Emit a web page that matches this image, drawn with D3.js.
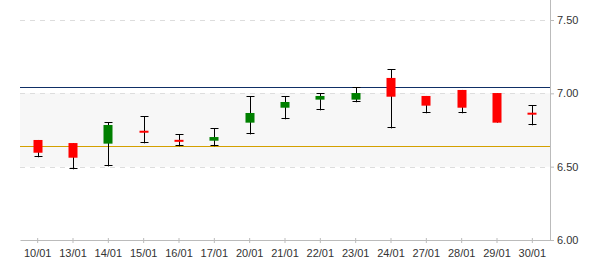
<!DOCTYPE html>
<html><head><meta charset="utf-8">
<script src="https://cdn.jsdelivr.net/npm/d3@7"></script>
<style>body{margin:0;background:#fff}svg{display:block}</style>
</head><body>
<script>
const dates = ["10/01","13/01","14/01","15/01","16/01","17/01","20/01","21/01","22/01","23/01","24/01","27/01","28/01","29/01","30/01"];
const openV  = [6.682,6.661,6.657,6.745,6.683,6.677,6.800,6.902,6.957,6.957,7.105,6.982,7.023,7.002,6.868];
const closeV = [6.595,6.561,6.784,6.735,6.676,6.702,6.866,6.941,6.982,7.002,6.977,6.916,6.902,6.800,6.862];
const highV  = [6.682,6.661,6.804,6.843,6.720,6.761,6.980,6.980,7.000,7.041,7.164,6.982,7.023,7.002,6.918];
const lowV   = [6.564,6.482,6.502,6.659,6.639,6.639,6.720,6.823,6.884,6.939,6.761,6.864,6.864,6.800,6.782];
const yTicks = [6.00, 6.50, 7.00, 7.50];
const refHigh = 7.041;
const refLow = 6.639;
const bandRange = [6.50, 7.00];

(function () {
const W = 600, H = 270;
const mLeft = 20, mRight = 550, mTop = 20, mBottom = 240;
const svg = d3.select("body").append("svg").attr("width", W).attr("height", H)
  .style("font-family", "'Liberation Sans', Arial, sans-serif");

const x = d3.scaleBand().domain(dates).range([mLeft, mRight]);
const y = d3.scaleLinear().domain([6.0, 7.5]).range([mBottom, mTop]);

// shaded band
svg.append("rect").attr("x", mLeft).attr("width", mRight - mLeft)
  .attr("y", y(bandRange[1])).attr("height", y(bandRange[0]) - y(bandRange[1]))
  .attr("fill", "#f7f7f7");

// dashed gridlines
svg.selectAll("line.grid").data(yTicks.filter(t => t > 6.0)).enter().append("line")
  .attr("x1", mLeft).attr("x2", mRight)
  .attr("y1", d => Math.round(y(d)) + 0.5).attr("y2", d => Math.round(y(d)) + 0.5)
  .attr("stroke", "#dddddd").attr("stroke-dasharray", "5,5");

// reference lines
svg.append("line").attr("x1", mLeft).attr("x2", mRight)
  .attr("y1", Math.round(y(refHigh)) + 0.5).attr("y2", Math.round(y(refHigh)) + 0.5)
  .attr("stroke", "#0f2f66").attr("stroke-width", 1);
svg.append("line").attr("x1", mLeft).attr("x2", mRight)
  .attr("y1", Math.round(y(refLow)) + 0.5).attr("y2", Math.round(y(refLow)) + 0.5)
  .attr("stroke", "#d4a000").attr("stroke-width", 1);

// axes
const yAxis = d3.axisRight(y).tickValues(yTicks).tickFormat(d3.format(".2f")).tickSize(4).tickSizeOuter(0);
const gy = svg.append("g").attr("transform", `translate(${mRight},0)`).call(yAxis);
gy.select(".domain").attr("stroke", "#bbbbbb").attr("d", `M0.5,0V${mBottom}`);
gy.selectAll(".tick line").attr("stroke", "#bbbbbb");
gy.selectAll(".tick text").attr("fill", "#333").attr("font-size", 11).attr("x", 7);

const xAxis = d3.axisBottom(x).tickSize(3).tickSizeOuter(0);
const gx = svg.append("g").attr("transform", `translate(0,${mBottom})`).call(xAxis);
gx.select(".domain").attr("stroke", "#bbbbbb");
gx.selectAll(".tick line").attr("stroke", "#bbbbbb").attr("y1", -2);
gx.selectAll(".tick text").attr("fill", "#333").attr("font-size", 11).attr("y", 9);

// candles
const data = dates.map((d, i) => ({d, o: openV[i], c: closeV[i], h: highV[i], l: lowV[i]}));
const bodyW = 9, capW = 7;
const g = svg.append("g");
const cx = d => Math.round(x(d.d) + x.bandwidth() / 2) + 0.5;
g.selectAll("line.wick").data(data).enter().append("line")
  .attr("x1", cx).attr("x2", cx).attr("y1", d => y(d.h)).attr("y2", d => y(d.l))
  .attr("stroke", "#000").attr("stroke-width", 1);
g.selectAll("line.caph").data(data.filter(d => d.h > Math.max(d.o, d.c))).enter().append("line")
  .attr("x1", d => cx(d) - capW / 2 - 0.5).attr("x2", d => cx(d) + capW / 2 + 0.5)
  .attr("y1", d => Math.round(y(d.h)) + 0.5).attr("y2", d => Math.round(y(d.h)) + 0.5)
  .attr("stroke", "#000").attr("stroke-width", 1);
g.selectAll("line.capl").data(data.filter(d => d.l < Math.min(d.o, d.c))).enter().append("line")
  .attr("x1", d => cx(d) - capW / 2 - 0.5).attr("x2", d => cx(d) + capW / 2 + 0.5)
  .attr("y1", d => Math.round(y(d.l)) - 0.5).attr("y2", d => Math.round(y(d.l)) - 0.5)
  .attr("stroke", "#000").attr("stroke-width", 1);
g.selectAll("rect.body").data(data).enter().append("rect")
  .attr("x", d => cx(d) - 0.5 - bodyW / 2)
  .attr("width", bodyW)
  .attr("y", d => y(Math.max(d.o, d.c)))
  .attr("height", d => Math.max(2, y(Math.min(d.o, d.c)) - y(Math.max(d.o, d.c))))
  .attr("fill", d => d.c >= d.o ? "#008000" : "#ff0000");
})();
</script>
</body></html>
